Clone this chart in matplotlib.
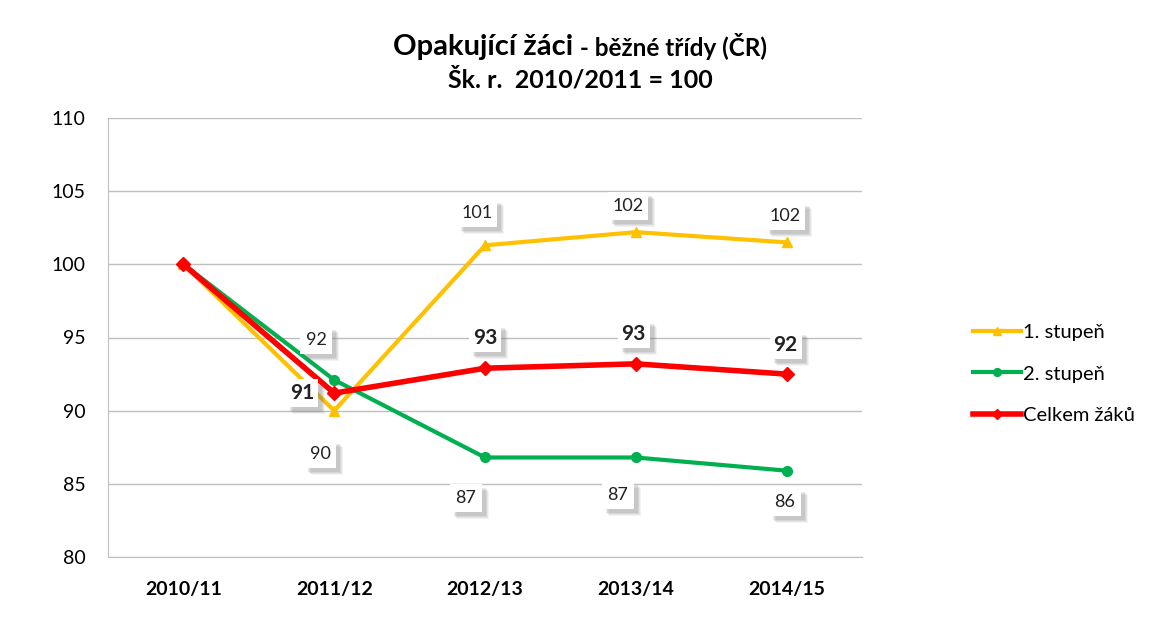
import matplotlib
matplotlib.use("Agg")
import matplotlib.pyplot as plt
from matplotlib.patches import Rectangle
from matplotlib.transforms import IdentityTransform

plt.rcParams['font.family'] = ['Lato', 'DejaVu Sans']

years = ["2010/11", "2011/12", "2012/13", "2013/14", "2014/15"]
stupen1 = [100, 90.0, 101.3, 102.2, 101.5]
stupen2 = [100, 92.1, 86.8, 86.8, 85.9]
celkem = [100, 91.2, 92.9, 93.2, 92.5]

# label offsets in pixels (dx, dy) for each point, None = no label
off1 = [None, (-14, -43), (-8, 32), (-8, 26), (-2, 26)]
off2 = [None, (-18, 40), (-19, -41), (-18, -38), (-2, -31)]
offc = [None, (-32, 0), (0, 30), (-2, 30), (-1, 29)]

fig = plt.figure(figsize=(11.5, 6.42), dpi=100)
ax = fig.add_axes([108 / 1150, 1 - 557 / 642, 754 / 1150, 439 / 642])

x = [i + 0.5 for i in range(len(years))]

ax.set_xlim(0, 5)
ax.set_ylim(80, 110)

ax.plot(x, stupen1, color="#FFC000", lw=3, marker="^", ms=7, label="1. stupeň", zorder=3)
ax.plot(x, stupen2, color="#00B050", lw=3, marker="o", ms=7, label="2. stupeň", zorder=4)
ax.plot(x, celkem, color="#FF0000", lw=4, marker="D", ms=7, label="Celkem žáků", zorder=5)


def label(xv, yv, off, bold):
    if off is None:
        return
    txt = "%d" % round(yv)
    px, py = ax.transData.transform((xv, yv))
    cx, cy = px + off[0], py + off[1]
    w = 40 if len(txt) > 2 else 32
    h = 28
    # soft shadow
    for k, a in [(7, 0.08), (6, 0.10), (5, 0.12), (4, 0.14)]:
        fig.add_artist(Rectangle((cx - w / 2 + k, cy - h / 2 - k), w, h,
                                 transform=IdentityTransform(), fc="#707070",
                                 ec="none", alpha=a, zorder=6))
    fig.add_artist(Rectangle((cx - w / 2, cy - h / 2), w, h,
                             transform=IdentityTransform(), fc="white",
                             ec="none", zorder=7))
    fig.text(cx / 1150, cy / 642, txt, ha="center", va="center",
             fontsize=15 if bold else 13, fontweight="bold" if bold else "normal",
             color="#222222", zorder=8)


for i in range(len(years)):
    label(x[i], stupen1[i], off1[i], False)
    label(x[i], stupen2[i], off2[i], False)
    label(x[i], celkem[i], offc[i], True)

ax.set_yticks(range(80, 111, 5))
ax.set_xticks(x)
ax.set_xticklabels(years, fontweight="bold", fontsize=14)
ax.tick_params(axis="y", labelsize=14, length=0, pad=16)
ax.tick_params(axis="x", length=0, pad=17)
ax.grid(axis="y", color="#BFBFBF", lw=1)
ax.set_axisbelow(True)
for s in ["top", "right"]:
    ax.spines[s].set_visible(False)
ax.spines["left"].set_color("#BFBFBF")
ax.spines["bottom"].set_color("#BFBFBF")

ax.legend(loc="center left", bbox_to_anchor=(955 / 1150, 1 - 374 / 642),
          bbox_transform=fig.transFigure, frameon=False, fontsize=14.5,
          handlelength=2.4, handletextpad=0.1, labelspacing=1.2, markerscale=0.8)

fig.text(573 / 1150, 1 - 47 / 642, "Opakující žáci", ha="right", va="center",
         fontsize=21, fontweight="bold")
fig.text(574 / 1150, 1 - 47 / 642, " - běžné třídy (ČR)", ha="left", va="center",
         fontsize=17.5, fontweight="bold")
fig.text(580 / 1150, 1 - 80 / 642, "Šk. r.  2010/2011 = 100", ha="center", va="center",
         fontsize=18, fontweight="bold")

fig.savefig("out.png", dpi=100, facecolor="white")
